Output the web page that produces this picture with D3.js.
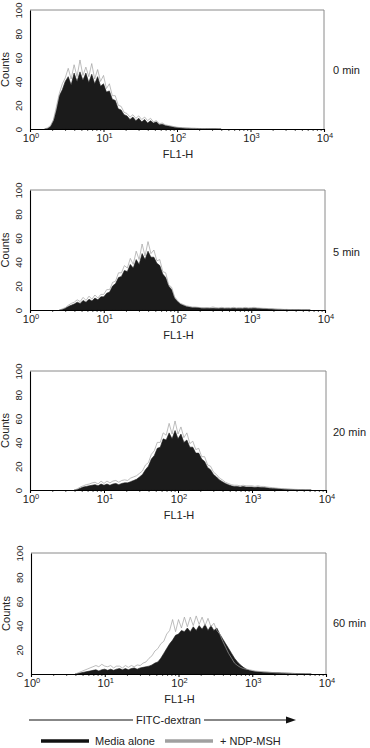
<!DOCTYPE html>
<meta charset="utf-8">
<style>
    body { margin: 0; background: #fff; }
    svg { display: block; }
    text {
        font-family: "Liberation Sans", Arial, Helvetica, sans-serif;
        fill: #222;
    }
    .tick-label { font-size: 11px; }
    .sup { font-size: 7.5px; }
    .y-label { font-size: 9.5px; }
    .title { font-size: 11px; }
</style>
<svg width="370" height="748"></svg>
<script src="https://d3js.org/d3.v7.min.js"></script>
<script>

    // bins are 0.04 log10 units wide, each series starts at binStart[panel]
    var step = 0.04;
    var binStart = [0.2, 0.4, 0.6, 0.6];
    var timeLabels = ["0 min", "5 min", "20 min", "60 min"];
    var yTicks = [0, 20, 40, 60, 80, 100];
    var xExponents = [0, 1, 2, 3, 4];
    var legendNames = ["Media alone", "+ NDP-MSH"];

    var media0 = [0, 0.5, 2, 7, 16, 28, 33, 40, 44, 37, 47, 40, 48, 41, 47, 39, 46, 38, 44, 36, 38, 31, 32, 25, 24, 17, 16, 12, 11, 8,
        10, 7, 9, 6, 8, 5, 7, 5, 6, 3.5, 4, 3, 2.5, 2, 1.5, 1.2, 1, 0.8, 0.7, 0.6, 0.5, 0.5, 0.4, 0.4, 0.3, 0.3, 0.3, 0.2, 0.2, 0.1, 0];
    var ndp0 = [0, 1, 3, 8, 19, 30, 38, 43, 51, 42, 54, 44, 58, 45, 52, 44, 55, 42, 50, 40, 45, 34, 38, 28, 28, 20, 19, 14, 13, 10,
        12, 9, 11, 8, 10, 7, 9, 6, 7, 4.5, 5, 3.5, 3, 2.5, 2, 1.5, 1.2, 1, 0.8, 0.7, 0.6, 0.5, 0.5, 0.4, 0.4, 0.3, 0.3, 0.2, 0.2, 0.1, 0];

    var media5 = [0, 0.5, 1.5, 3, 4, 5, 6.5, 5.5, 8, 6.5, 9, 7.5, 10, 8.5, 11, 11, 14, 15, 20, 22, 27, 28, 33, 32, 38, 35, 42, 38, 47, 42,
        49, 44, 44, 39, 37, 30, 27, 20, 17, 10, 7, 5, 4, 3, 2.5, 2, 2, 2, 1.5, 1.5, 1.5,
        1.2, 1.5, 1.3, 1.2, 1.5, 1.2, 1.3, 1.2, 1.5, 1.2, 1.3, 1.2, 1.5, 1.2, 1.3, 1.5, 1.2, 1.2, 1, 1,
        0.8, 0.8, 0.6, 0.5, 0.5, 0.4, 0.4, 0.3, 0.3, 0.2, 0.2, 0.1, 0.1, 0.1, 0];
    var ndp5 = [0, 1, 2, 4, 5.5, 6.5, 8.5, 7, 10.5, 8, 11.5, 9, 12.5, 10, 13, 13, 17, 17, 23, 24, 31, 31, 37, 35, 43, 38, 49, 42, 55, 45,
        57, 47, 50, 41, 42, 32, 31, 21, 19, 11, 8, 5.5, 4.5, 3.5, 3, 2.5, 2.5, 2.2, 2, 1.8, 2,
        2, 2.5, 2, 1.8, 2.2, 1.8, 2, 1.8, 2.2, 1.8, 2, 1.8, 2.2, 1.8, 2, 2.2, 1.8, 1.6, 1.4, 1.3,
        1.1, 1, 0.8, 0.7, 0.6, 0.5, 0.5, 0.4, 0.3, 0.3, 0.2, 0.2, 0.1, 0.1, 0];

    var media20 = [0, 0.5, 1.5, 2.5, 3, 3.5, 4, 4.5, 3.5, 5, 4, 5, 4, 5, 5.5, 4.5, 5.5, 6, 6, 7, 8, 9, 11, 13, 17, 20, 26, 29, 35, 36,
        43, 42, 48, 43, 50, 43, 47, 40, 42, 36, 36, 31, 31, 26, 24, 19, 17, 13, 11, 8.5, 7, 5.5, 4.5, 3.5, 3, 3, 2.5, 3, 2.5, 2.5,
        2.5, 2, 2.5, 2, 2, 1.8, 1.5, 1.3, 1.2, 1, 0.8, 0.7, 0.6, 0.5, 0.4, 0.3, 0.3, 0.2, 0.1, 0.1, 0];
    var ndp20 = [0, 1, 2.5, 3.5, 4.5, 5, 6, 6.5, 5, 7.5, 5.5, 7.5, 6, 7.5, 8, 6.5, 8, 8.5, 8, 10, 11, 12, 14, 16, 21, 23, 30, 33, 40, 40,
        48, 46, 56, 47, 58, 47, 53, 44, 48, 39, 41, 34, 35, 28, 28, 21, 20, 15, 13, 10, 8.5, 6.5, 5.5, 4.5, 4, 4, 3.5, 4, 3.5, 3.5,
        3.5, 3, 3.5, 3, 3, 2.5, 2.2, 2, 1.7, 1.4, 1.2, 1, 0.8, 0.7, 0.6, 0.5, 0.4, 0.3, 0.2, 0.1, 0];

    var media60 = [0, 0.5, 1, 1.5, 2, 2.5, 3, 3.5, 2.5, 3.5, 4, 3, 4, 3, 4, 4.5, 3.5, 4.5, 3.5, 4.5, 5, 4, 5, 5.5, 6, 6.5, 7.5, 9, 10, 13,
        17, 21, 25, 28, 32, 33, 36, 35, 38, 35, 39, 36, 40, 37, 41, 36, 40, 36, 38, 33, 29, 25, 21, 17, 13, 10, 7.5, 5.5, 4, 3,
        2.5, 2, 1.8, 1.6, 1.5, 1.4, 1.3, 1.2, 1.1, 1, 0.9, 0.8, 0.7, 0.6, 0.5, 0.4, 0.3, 0.2, 0.1, 0.1, 0];
    var ndp60 = [0, 1, 2, 3, 4, 5, 6, 7, 6, 8, 6.5, 6, 7, 5, 6.5, 6.5, 5, 7, 5.5, 7, 6, 7.5, 7, 9, 10, 13, 15, 19, 21, 25,
        27, 33, 36, 45, 35, 45, 38, 47, 39, 47, 40, 48, 41, 47, 40, 46, 39, 42, 36, 33, 27, 22, 17, 13, 9, 7, 5.5, 4.5, 4, 3.5,
        3, 2.5, 2.2, 2, 1.8, 1.6, 1.4, 1.2, 1, 0.9, 0.8, 0.7, 0.6, 0.5, 0.4, 0.3, 0.2, 0.2, 0.1, 0.1, 0];

    var media = [media0, media5, media20, media60];
    var ndp = [ndp0, ndp5, ndp20, ndp60];

    var panels = [
        {top: 10, bottom: 129, left: 30, right: 324, labelY: 74},
        {top: 190, bottom: 310, left: 30, right: 325, labelY: 256},
        {top: 371, bottom: 490, left: 30, right: 326, labelY: 436},
        {top: 553, bottom: 674, left: 31, right: 326, labelY: 627}
    ];

    var blackFill = "#1b1b1b",
        grayLine = "#a0a0a0";

    var svg = d3.select("svg");

    panels.forEach(function (p, k) {
        var x = d3.scaleLog().domain([1, 1e4]).range([p.left, p.right]);
        var y = d3.scaleLinear().domain([0, 100]).range([p.bottom, p.top]);
        var g = svg.append("g");

        function points(arr) {
            return arr.map(function (v, i) {
                return [Math.pow(10, binStart[k] + i * step), v];
            });
        }

        // frame: top and right in gray
        g.append("path")
            .attr("d", "M" + p.left + "," + p.top + "H" + p.right + "V" + p.bottom)
            .attr("fill", "none")
            .attr("stroke", "#8a8a8a")
            .attr("stroke-width", 1);

        var area = d3.area()
            .x(function (d) { return x(d[0]); })
            .y0(p.bottom)
            .y1(function (d) { return y(d[1]); });

        var line = d3.line()
            .x(function (d) { return x(d[0]); })
            .y(function (d) { return y(d[1]); });

        g.append("path")
            .datum(points(media[k]))
            .attr("d", area)
            .attr("fill", blackFill)
            .attr("stroke", blackFill)
            .attr("stroke-width", 0.6);

        g.append("path")
            .datum(points(ndp[k]))
            .attr("d", line)
            .attr("fill", "none")
            .attr("stroke", grayLine)
            .attr("stroke-width", 0.7);

        // minor ticks along the bottom
        var minors = [];
        for (var e = 0; e < 4; e++) {
            for (var m = 2; m < 10; m++) minors.push(m * Math.pow(10, e));
        }
        g.append("g")
            .attr("transform", "translate(0," + p.bottom + ")")
            .call(d3.axisBottom(x).tickValues(minors).tickSize(2).tickFormat(""))
            .call(function (a) {
                a.select(".domain").remove();
                a.selectAll("line").attr("stroke", "#555");
            });

        var xAxis = g.append("g")
            .attr("transform", "translate(0," + p.bottom + ")")
            .call(d3.axisBottom(x).tickValues(xExponents.map(function (e) { return Math.pow(10, e); }))
                .tickSize(3).tickFormat(""));
        xAxis.select(".domain").attr("stroke", "#000").attr("stroke-width", 1.1);

        var labels = g.selectAll(".xl")
            .data(xExponents)
            .enter().append("text")
            .attr("class", "tick-label")
            .attr("x", function (e) { return x(Math.pow(10, e)) + 1; })
            .attr("y", p.bottom + 13)
            .attr("text-anchor", "middle");
        labels.append("tspan").text("10");
        labels.append("tspan").attr("class", "sup").attr("dy", -4.5).text(function (e) { return e; });

        var yAxis = g.append("g")
            .attr("transform", "translate(" + p.left + ",0)")
            .call(d3.axisLeft(y).tickValues(yTicks).tickSize(0).tickPadding(0));
        yAxis.select(".domain").attr("stroke", "#000").attr("stroke-width", 1.1);
        yAxis.selectAll("text")
            .attr("class", "y-label")
            .attr("x", 0)
            .attr("y", -8)
            .attr("dy", 0)
            .attr("text-anchor", "middle")
            .attr("transform", "rotate(-90)");

        g.append("text")
            .attr("class", "title")
            .attr("transform", "translate(" + (p.left - 21) + "," + ((p.top + p.bottom) / 2) + ") rotate(-90)")
            .attr("text-anchor", "middle")
            .text("Counts");

        g.append("text")
            .attr("class", "title")
            .attr("x", (p.left + p.right) / 2 + 1)
            .attr("y", p.bottom + 29)
            .attr("text-anchor", "middle")
            .text("FL1-H");

        g.append("text")
            .attr("class", "title")
            .attr("x", 333)
            .attr("y", p.labelY)
            .text(timeLabels[k]);
    });

    // FITC-dextran arrow
    var arrowY = 720;
    svg.append("path")
        .attr("d", "M29," + arrowY + "H133M204," + arrowY + "H287")
        .attr("stroke", "#111")
        .attr("stroke-width", 1.1);
    svg.append("path")
        .attr("d", "M286," + (arrowY - 3.5) + "L296," + arrowY + "L286," + (arrowY + 3.5) + "Z")
        .attr("fill", "#111");
    svg.append("text")
        .attr("class", "title")
        .attr("x", 168.5)
        .attr("y", arrowY + 4)
        .attr("text-anchor", "middle")
        .text("FITC-dextran");

    // legend
    var legendY = 741;
    var legendItems = [
        {x1: 41, x2: 89, tx: 95, color: "#111"},
        {x1: 165, x2: 213, tx: 220, color: grayLine}
    ];
    legendItems.forEach(function (d, i) {
        svg.append("line")
            .attr("x1", d.x1).attr("x2", d.x2)
            .attr("y1", legendY).attr("y2", legendY)
            .attr("stroke", d.color)
            .attr("stroke-width", 3.5);
        svg.append("text")
            .attr("class", "title")
            .attr("x", d.tx)
            .attr("y", legendY + 4)
            .text(legendNames[i]);
    });

</script>
